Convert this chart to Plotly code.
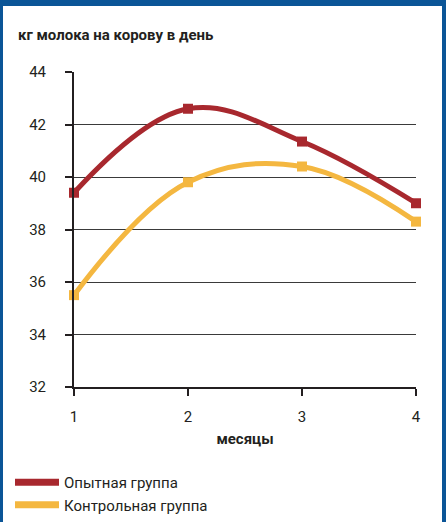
import plotly.graph_objects as go

# Milk yield per cow per day, by month
months = [1, 2, 3, 4]
trial_group = [39.4, 42.6, 41.35, 39.0]
control_group = [35.5, 39.8, 40.4, 38.3]
series_names = ["Опытная группа", "Контрольная группа"]
series_colors = ["#A8282E", "#F4B740"]
y_ticks = [32, 34, 36, 38, 40, 42, 44]

FONT = "Roboto, Arial, sans-serif"
FRAME = "#0B5597"

# plot area in pixels
L, R, T, B = 74, 416, 72, 387
W, H = R - L, B - T


def px_x(x):
    return (x - L) / W


def px_y(y):
    return (B - y) / H


fig = go.Figure()

for name, vals, color in zip(series_names, [trial_group, control_group], series_colors):
    fig.add_trace(go.Scatter(
        x=months, y=vals, mode="lines+markers", name=name,
        line=dict(color=color, width=5, shape="spline", smoothing=1.1),
        marker=dict(symbol="square", size=10, color=color),
        cliponaxis=False, showlegend=False,
    ))
    # legend entry: plain thick line
    fig.add_trace(go.Scatter(
        x=[None], y=[None], mode="lines", name=name,
        line=dict(color=color, width=7),
    ))

fig.update_layout(
    width=446, height=522,
    margin=dict(l=L, r=446 - R, t=T, b=522 - B, autoexpand=False),
    paper_bgcolor="white", plot_bgcolor="white",
    font=dict(family=FONT, size=15, color="#231F20"),
    title=dict(text="<b>кг молока на корову в день</b>", x=18 / 446, xanchor="left",
               y=1 - 35 / 522, yanchor="middle",
               font=dict(family=FONT, size=15, color="#231F20")),
    xaxis=dict(range=[1, 4], tickvals=months, showgrid=False, zeroline=False,
               showline=True, linecolor="#231F20", linewidth=2,
               ticks="outside", ticklen=7, tickwidth=2, tickcolor="#231F20",
               tickfont=dict(size=15), ticklabelstandoff=8,
               title=dict(text="<b>месяцы</b>", font=dict(size=15), standoff=8)),
    yaxis=dict(range=[32, 44], tickvals=y_ticks, showgrid=True, gridcolor="#3a3a3a",
               gridwidth=1, zeroline=False, showline=True, linecolor="#231F20",
               linewidth=2, ticks="outside", ticklen=7, tickwidth=2,
               tickcolor="#231F20", tickfont=dict(size=15), ticklabelstandoff=16),
    legend=dict(x=px_x(10), y=px_y(466), xanchor="left", yanchor="top",
                font=dict(size=15), itemwidth=44,
                bgcolor="rgba(0,0,0,0)"),
)

# blue frame around the page
for x0, x1, y0, y1 in [(0, 446, 0, 6), (0, 3, 0, 522), (442, 446, 0, 522)]:
    fig.add_shape(type="rect", xref="paper", yref="paper",
                  x0=px_x(x0), x1=px_x(x1), y0=px_y(y1), y1=px_y(y0),
                  fillcolor=FRAME, line=dict(width=0), layer="above")

fig.write_html("out.html")
